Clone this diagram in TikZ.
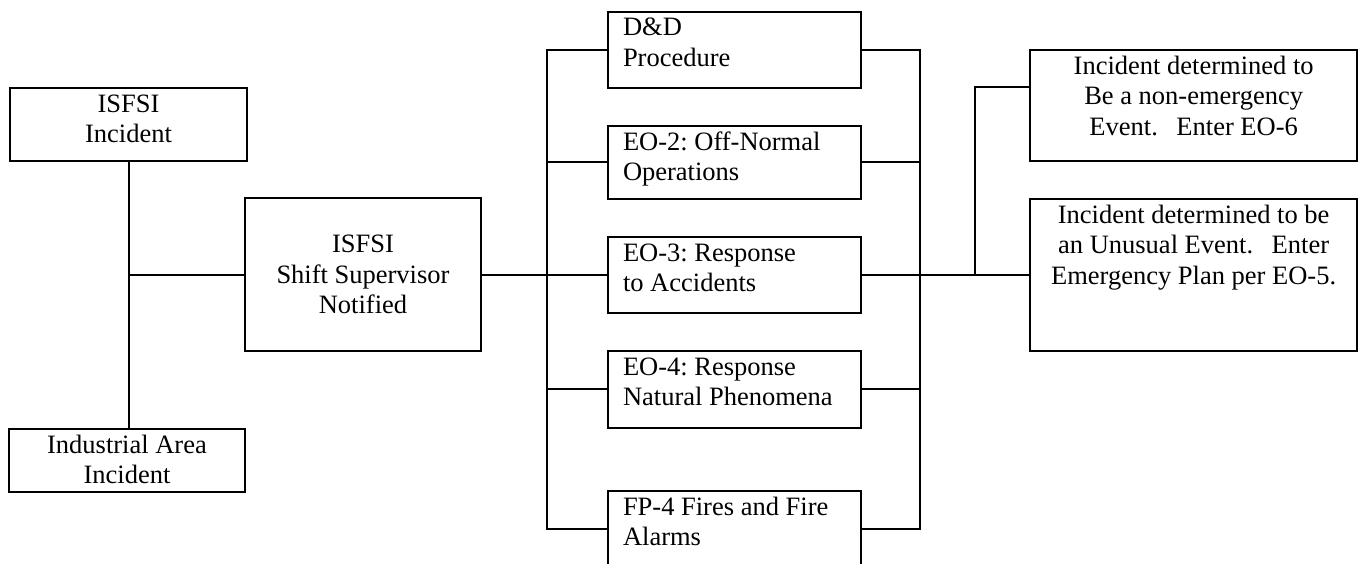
\documentclass[tikz,border=0pt]{standalone}
\usepackage{fontspec}
\setmainfont{Liberation Serif}
\frenchspacing
\newcommand{\boxfont}{\fontsize{26.5pt}{30.3pt}\selectfont}
\newcommand{\lbox}[3]{\parbox[c][#2][t]{#1}{\raggedright\leftskip=15pt\relax\vspace*{3pt}\strut #3}}
\newcommand{\cbox}[3]{\parbox[c][#2][t]{#1}{\centering\vspace*{3pt}\strut #3}}
\tikzset{
  box/.style={draw, line width=2pt, inner sep=0pt, anchor=north west, font=\boxfont},
  conn/.style={line width=2pt, line join=miter},
}
\begin{document}
\begin{tikzpicture}[x=1pt, y=-1pt]
\useasboundingbox (0,0) rectangle (1358,563);
\fill[white] (0,0) rectangle (1358,563);

% left column
\node[box] (isfsi) at (9,87) {\cbox{237pt}{73pt}{ISFSI\\Incident}};
\node[box] (ind) at (8,428) {\cbox{236pt}{63pt}{Industrial Area\\Incident}};
\node[box] (shift) at (244,197) {\parbox[c][153pt][c]{236pt}{\centering ISFSI\\Shift Supervisor\\Notified}};

% middle column
\node[box] (dd) at (607,10.7) {\lbox{253pt}{76.6pt}{D\&D\\Procedure}};
\node[box] (eo2) at (607,125) {\lbox{253pt}{72.7pt}{EO-2: Off-Normal\\Operations}};
\node[box] (eo3) at (607,236) {\lbox{253pt}{75.7pt}{EO-3: Response\\to Accidents}};
\node[box] (eo4) at (607,350) {\lbox{253pt}{76.7pt}{EO-4: Response\\Natural Phenomena}};
\node[box] (fp) at (607,490.3) {\lbox{253pt}{76pt}{FP-4 Fires and Fire\\Alarms}};

% right column
\node[box] (r1) at (1029,49.3) {\cbox{327.3pt}{110.7pt}{Incident determined to\\Be a non-emergency\\Event.\hspace{0.7em}Enter EO-6}};
\node[box] (r2) at (1029,198.3) {\cbox{327.3pt}{151.7pt}{Incident determined to be\\an Unusual Event.\hspace{0.7em}Enter\\Emergency Plan per EO-5.}};

% bus coordinates
\coordinate (lb) at (546.5,0);
\coordinate (rb) at (919.5,0);
\coordinate (sb) at (975.3,87.3);

% left connectors
\draw[conn] (isfsi.south) -- (isfsi.south |- ind.north);
\draw[conn] (isfsi.south |- shift.west) -- (shift.west);
\draw[conn] (shift.east) -- (eo3.west |- shift.east);

% left bus
\draw[conn] (dd.west) -- (dd.west -| lb) -- (fp.west -| lb) -- (fp.west);
\draw[conn] (eo2.west -| lb) -- (eo2.west);
\draw[conn] (eo4.west -| lb) -- (eo4.west);

% right bus
\draw[conn] (dd.east) -- (dd.east -| rb) -- (fp.east -| rb) -- (fp.east);
\draw[conn] (eo2.east) -- (eo2.east -| rb);
\draw[conn] (eo4.east) -- (eo4.east -| rb);

% to outcomes
\draw[conn] (eo3.east) -- (r2.west |- eo3.east);
\draw[conn] (sb |- eo3.east) -- (sb) -- (sb -| r1.west);
\end{tikzpicture}
\end{document}
